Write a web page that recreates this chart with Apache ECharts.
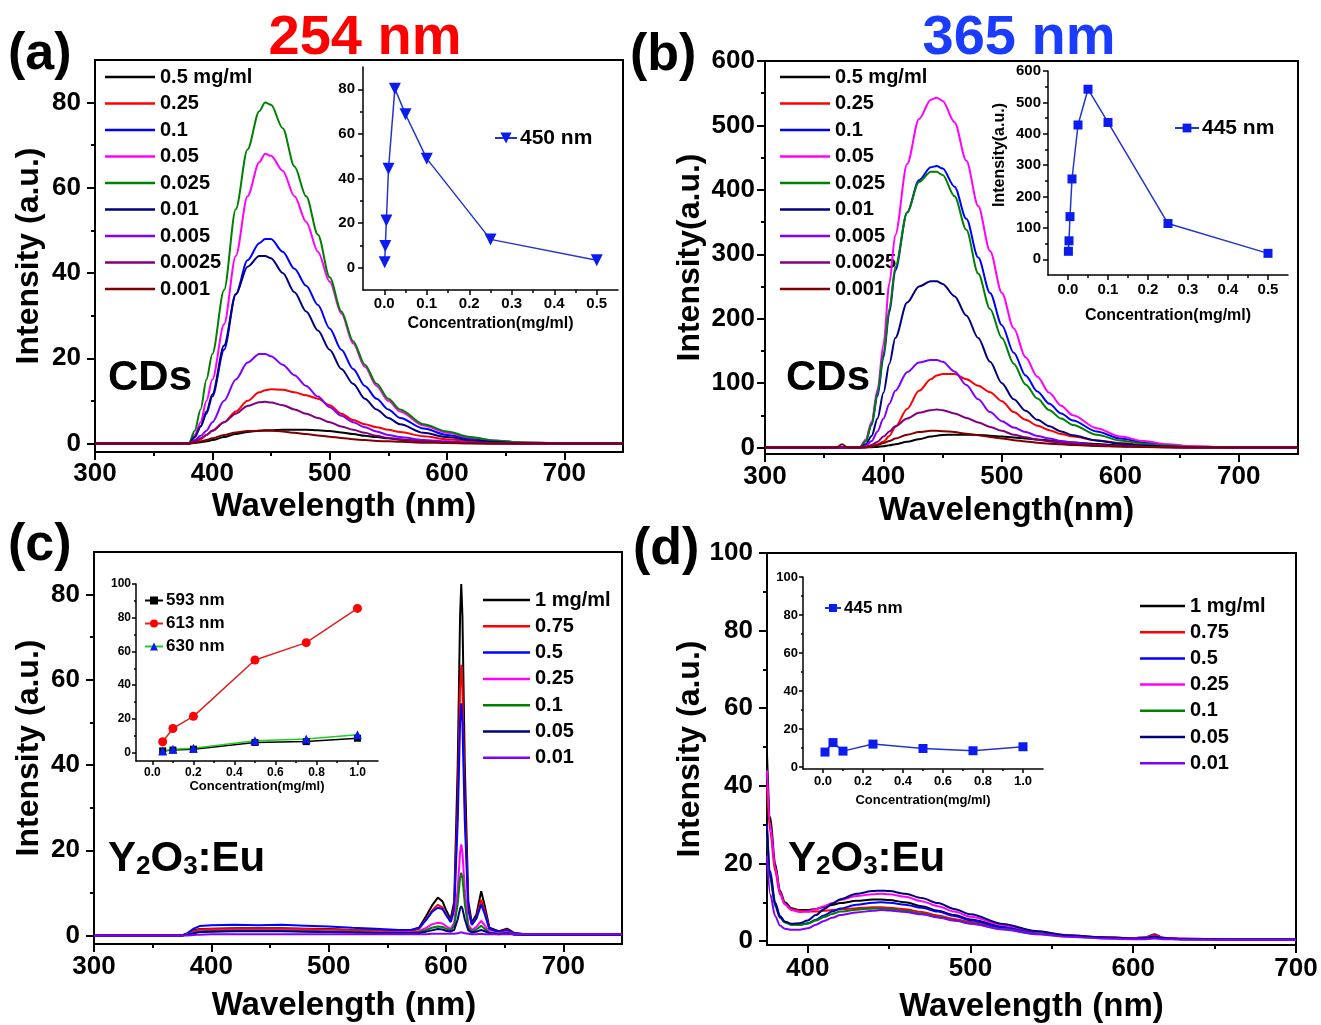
<!DOCTYPE html>
<html><head><meta charset="utf-8">
<script src="https://cdn.jsdelivr.net/npm/echarts@6/dist/echarts.min.js"></script>
<style>html,body{margin:0;padding:0;background:#fff}#c{width:1321px;height:1025px}</style>
</head><body><div id="c"></div>
<script>
// ---------- Panel (a): CDs, 254 nm excitation ----------
const waveA = [300,370,380,385,390,395,400,410,420,430,440,445,450,460,470,480,490,500,510,520,530,540,550,560,580,600,620,640,660,700,750];
const a_05    = [0,0,0,0.1,0.3,0.5,0.8,1.5,2.2,2.7,3.0,3.1,3.1,3.2,3.2,3.2,3.1,2.9,2.6,2.2,1.8,1.5,1.2,0.9,0.5,0.3,0.1,0,0,0,0];
const a_025   = [0,0,0,0.3,1,2,3,5,7.5,10,12,12.5,12.7,12.6,12,11.3,10.5,9,7,5.5,4.5,3.8,3.2,2.7,1.7,1,0.5,0.2,0,0,0];
const a_01    = [0,0,0,1.5,4,7,11,22,35,43,47,48,48,45,41,37,32.5,27,22,17.5,13.5,10.5,8,6,3.5,2,1.2,0.6,0.2,0,0];
const a_005   = [0,0,0,2,5,10,15,28,44,58,66,68,67.5,64,58,52,45,38,30.5,23.5,18,13.5,10,7.5,4.2,2.5,1.4,0.7,0.3,0,0];
const a_0025  = [0,0,0,3,8,15,21,36,55,69,78,80,79.5,74,65,58,49,39,31,24,18.5,14,10.5,8,4.5,2.8,1.5,0.7,0.3,0,0];
const a_001   = [0,0,0,1.5,4,7.5,11.5,23,35,41.5,44,44,43.5,40,35.5,31,26.5,22,17.5,14,10.5,8,6,4.5,2.5,1.5,0.8,0.4,0.1,0,0];
const a_0005  = [0,0,0,0.8,1.8,3,5,10,15,19,21,21,20.5,18.5,16,13.5,11,8.5,6.5,5,3.8,2.8,2,1.5,0.8,0.5,0.2,0.1,0,0,0];
const a_00025 = [0,0,0,0.5,1.2,2,3,5,7,8.8,9.7,9.8,9.6,9,8,7,6,5,4,3.2,2.5,1.8,1.3,1,0.5,0.3,0.1,0,0,0,0];
const a_0001  = [0,0,0,0.2,0.5,0.8,1.2,2,2.6,2.9,3,3,3,2.8,2.5,2.2,1.9,1.6,1.3,1,0.8,0.6,0.5,0.4,0.2,0.1,0,0,0,0,0];
const labelsA = ['0.5 mg/ml','0.25','0.1','0.05','0.025','0.01','0.005','0.0025','0.001'];

// ---------- Panel (b): CDs, 365 nm excitation ----------
const waveB = [300,360,365,370,380,385,390,395,400,405,410,420,430,440,445,450,460,470,480,490,500,510,520,530,540,550,560,580,600,620,640,660,700,750];
const b_05    = [0,0,0,0,0,0.2,0.5,1,2,3.5,5,9,13,17,18.5,19.5,20,20,19.5,18.5,17,15.5,14,12.5,11,9.5,8,5.5,3.5,2,1,0.5,0,0];
const b_025   = [0,0,0,0,0,0,2,5,9,18,32,60,88,106,112,114,114,106,96,86,72,55,43,34,27,21,17,11,7,4,2,1,0,0];
const b_01    = [0,0,0,0,0,10,35,80,140,210,275,365,415,435,437,433,405,355,295,240,190,147,112,87,68,53,42,25,14,8,4,1.5,0,0];
const b_005   = [0,0,0,0,0,12,40,90,160,255,330,440,510,540,543,538,505,445,375,305,240,185,140,110,85,65,50,30,17,10,5,2,0,0];
const b_0025  = [0,0,0,0,0,10,37,85,145,215,280,365,412,428,428,423,390,338,270,215,170,130,98,76,58,45,35,20,11,6,3,1,0,0];
const b_001   = [0,0,0,0,0,5,18,45,85,130,170,225,250,258,258,254,235,205,170,133,100,75,57,43,33,25,19,11,6,3,1.5,0.5,0,0];
const b_0005  = [0,0,0,0,0,3,10,25,45,68,88,117,132,136,136,133,118,97,75,55,41,31,24,18,14,10,8,4,2,1,0.5,0,0,0];
const b_00025 = [0,0,0,0,0,1,4,9,17,25,33,45,54,58,59,58,53,46,39,32,26,20,16,12,9.5,7.5,6,3.5,2,1,0.5,0,0,0];
const b_0001  = [0,0,5,0,0,1,2,4,7,10,14,20,24,26,26,25.5,24,21.5,19,16.5,14,11.5,9.5,7.5,6,5,4,2.5,1.5,0.8,0.3,0,0,0];
const labelsB = ['0.5 mg/ml','0.25','0.1','0.05','0.025','0.01','0.005','0.0025','0.001'];

// ---------- Panel (c): Y2O3:Eu, 254 nm excitation ----------
const waveC = [300,375,380,385,390,400,420,440,460,480,500,520,540,560,570,577,583,588,593,597,600,604,607,610,612,613,614,616,619,622,626,630,633,637,645,652,658,665,700,750];
const c_1    = [0,0,0.5,1.2,1.5,1.6,1.7,1.7,1.7,1.6,1.5,1.3,1.2,1.0,1.2,1.8,4.5,7,8.9,8,6,3.8,8,40,75,82.5,75,40,8,3,5,10.4,7,1.8,1.0,1.6,0.6,0.4,0.3,0.3];
const c_075  = [0,0,0.4,1,1.4,1.5,1.6,1.6,1.6,1.5,1.4,1.2,1.1,0.9,1.0,1.5,3.8,5.8,7.2,6.6,5,3.2,6.5,31,58,63.5,58,31,6.5,2.5,4.2,8.4,5.8,1.5,0.8,1.3,0.5,0.3,0.3,0.3];
const c_05   = [0,0,0.6,1.6,2.2,2.4,2.5,2.4,2.5,2.3,2.1,1.8,1.6,1.3,1.3,1.8,3.6,5.5,6.5,6.2,4.8,3.2,6,27,50,54.5,50,27,6,2.5,4,7.3,5,1.5,0.8,1.2,0.5,0.3,0.3,0.3];
const c_025  = [0,0,0.3,0.7,1,1.1,1.2,1.2,1.2,1.1,1.0,0.9,0.8,0.7,0.7,1,1.8,2.6,3,2.8,2.2,1.5,3,11,19.5,21.4,19.5,11,2.5,1.3,2,3.4,2.4,0.8,0.5,0.8,0.3,0.2,0.2,0.2];
const c_01   = [0,0,0.3,0.6,0.9,1.0,1.1,1.1,1.1,1.0,0.9,0.8,0.7,0.6,0.6,0.8,1.3,1.8,2.1,2,1.6,1.2,2.2,7.5,13.5,14.7,13.5,7.5,1.8,1,1.4,2.3,1.6,0.6,0.4,0.6,0.3,0.2,0.2,0.2];
const c_005  = [0,0,0.2,0.5,0.8,0.9,1.0,1.0,1.0,0.9,0.8,0.7,0.6,0.5,0.5,0.6,0.9,1.2,1.5,1.4,1.1,0.9,1.3,3.8,6.3,6.9,6.3,3.8,1.2,0.7,0.9,1.3,1,0.5,0.3,0.5,0.2,0.2,0.2,0.2];
const c_001  = [0,0,0,0.1,0.2,0.3,0.3,0.3,0.3,0.3,0.3,0.3,0.3,0.3,0.3,0.3,0.3,0.4,0.4,0.4,0.4,0.4,0.4,0.5,0.7,0.8,0.7,0.5,0.4,0.3,0.3,0.4,0.3,0.3,0.3,0.3,0.3,0.3,0.3,0.3];
const labelsC = ['1 mg/ml','0.75','0.5','0.25','0.1','0.05','0.01'];

// ---------- Panel (d): Y2O3:Eu, 365 nm excitation ----------
const waveD = [375,377,380,383,386,390,395,400,405,410,415,420,430,440,445,450,460,470,480,490,500,520,540,560,580,600,608,613,618,630,660,700];
const d_1    = [48,32,20,13,10,8.5,8,8,8.3,8.8,9.3,9.8,10.4,10.7,10.7,10.6,10,9,7.8,6.7,5.6,3.7,2.3,1.4,1,0.8,1.0,1.8,0.9,0.6,0.5,0.5];
const d_075  = [40,28,18,12,9.5,8.2,7.8,7.6,7.6,7.8,8,8.2,8.5,8.7,8.7,8.6,8.2,7.5,6.6,5.7,4.9,3.3,2.1,1.3,0.9,0.8,0.9,1.6,0.9,0.6,0.5,0.5];
const d_05   = [30,18,10,6.5,5,4.3,4.2,4.6,5.5,6.6,7.6,8.4,9.4,9.9,10,9.9,9.4,8.6,7.6,6.5,5.4,3.5,2.1,1.3,0.9,0.7,0.8,1.3,0.8,0.5,0.4,0.4];
const d_025  = [44,30,19,12.5,9.5,8,7.5,7.6,8.2,9,9.8,10.6,11.6,12.1,12.2,12.1,11.4,10.3,9,7.6,6.3,4.1,2.5,1.5,1,0.8,0.9,1.4,0.9,0.6,0.5,0.5];
const d_01   = [27,16,9,6,4.8,4.2,4.2,4.5,5.3,6.2,7,7.6,8.1,8.4,8.4,8.3,7.8,7.1,6.3,5.4,4.6,3.1,1.9,1.2,0.8,0.6,0.6,0.9,0.6,0.5,0.4,0.4];
const d_005  = [29,17,9.5,6.2,5,4.5,4.6,5.3,6.7,8.2,9.6,10.8,12.2,12.9,13,12.9,12.2,11.1,9.8,8.3,6.9,4.4,2.6,1.5,1,0.7,0.8,1.2,0.8,0.5,0.4,0.4];
const d_001  = [22,12,6.5,4,3.2,2.9,2.9,3.3,4.2,5.2,6,6.7,7.4,7.8,8,7.9,7.5,6.9,6.1,5.3,4.5,3,1.8,1.1,0.7,0.5,0.5,0.7,0.5,0.4,0.3,0.3];
const labelsD = ['1 mg/ml','0.75','0.5','0.25','0.1','0.05','0.01'];

// ---------- Insets ----------
const concAB   = [0.001,0.0025,0.005,0.01,0.025,0.05,0.1,0.25,0.5];
const insA450  = [2.5,9.7,21.2,44.4,80.3,68.8,48.9,12.7,3.3];
const insB445  = [25.5,59,136,256,428,542,436,114,19];
const concC    = [0.05,0.1,0.2,0.5,0.75,1.0];
const insC593  = [1,1.5,2,6,6.5,8.5];
const insC613  = [6.4,14.3,21.5,54.9,65.2,85.5];
const insC630  = [1,2,2.5,7,8,10.5];
const concD    = [0.01,0.05,0.1,0.25,0.5,0.75,1.0];
const insD445  = [7.9,12.9,8.4,12.1,9.8,8.6,10.7];

// ---------- Styling / layout ----------
const FF = '"Liberation Sans", Arial, Helvetica, sans-serif';
const colCD = ['#000000','#ff0000','#0000ff','#ff00ff','#008000','#000080','#8000ff','#800080','#800000'];
const colEu = ['#000000','#ff0000','#0000ff','#ff00ff','#008000','#000080','#8000ff'];

const grids = [
  {left:95,  top:60,  width:528, height:392, show:true},
  {left:765, top:61,  width:533, height:393, show:true},
  {left:94,  top:552, width:528, height:392, show:true},
  {left:767, top:553, width:529, height:392, show:true},
  {left:363, top:67,  width:255, height:223, show:false},
  {left:1048,top:71,  width:240, height:204, show:false},
  {left:136, top:584, width:242, height:177, show:false},
  {left:803, top:577, width:240, height:192, show:false}
];
const f1 = v => v.toFixed(1);
const axisCfg = [
  {x:{min:300,max:750,majors:[300,400,500,600,700],minors:[350,450,550,650],fs:26,margin:9,tl:8,lw:2,name:'Wavelength (nm)',nameGap:38,nameFs:33,namePad:[0,30,0,0]},
   y:{min:-2,max:90,majors:[0,20,40,60,80],minors:[10,30,50,70],fs:26,margin:14,tl:8,lw:2,name:'Intensity (a.u.)',nameGap:50,nameFs:32}},
  {x:{min:300,max:750,majors:[300,400,500,600,700],minors:[350,450,550,650],fs:26,margin:10,tl:8,lw:2,name:'Wavelength(nm)',nameGap:40,nameFs:33,namePad:[0,50,0,0]},
   y:{min:-10,max:600,majors:[0,100,200,300,400,500,600],minors:[50,150,250,350,450,550],fs:26,margin:10,tl:8,lw:2,name:'Intensity(a.u.)',nameGap:59,nameFs:32}},
  {x:{min:300,max:750,majors:[300,400,500,600,700],minors:[350,450,550,650],fs:26,margin:10,tl:8,lw:2,name:'Wavelength (nm)',nameGap:45,nameFs:33,namePad:[0,28,0,0]},
   y:{min:-2,max:90,majors:[0,20,40,60,80],minors:[10,30,50,70],fs:26,margin:14,tl:8,lw:2,name:'Intensity (a.u.)',nameGap:49,nameFs:32}},
  {x:{min:375,max:700,majors:[400,500,600,700],minors:[450,550,650],fs:26,margin:11,tl:8,lw:2,name:'Wavelength (nm)',nameGap:45,nameFs:33},
   y:{min:-1,max:100,majors:[0,20,40,60,80,100],minors:[10,30,50,70,90],fs:26,margin:14,tl:8,lw:2,name:'Intensity (a.u.)',nameGap:61,nameFs:32}},
  {x:{min:-0.05,max:0.55,majors:[0,0.1,0.2,0.3,0.4,0.5],minors:[0.05,0.15,0.25,0.35,0.45],fs:15,margin:6,tl:5,lw:1.5,fmt:f1,name:'Concentration(mg/ml)',nameGap:26,nameFs:16},
   y:{min:-10,max:90,majors:[0,20,40,60,80],minors:[10,30,50,70],fs:15,margin:8,tl:5,lw:1.5}},
  {x:{min:-0.05,max:0.55,majors:[0,0.1,0.2,0.3,0.4,0.5],minors:[0.05,0.15,0.25,0.35,0.45],fs:15,margin:7,tl:5,lw:1.5,fmt:f1,name:'Concentration(mg/ml)',nameGap:33,nameFs:16},
   y:{min:-50,max:600,majors:[0,100,200,300,400,500,600],minors:[50,150,250,350,450,550],fs:15,margin:7,tl:5,lw:1.5,name:'Intensity(a.u.)',nameGap:40,nameFs:16,namePad:[0,0,0,36]}},
  {x:{min:-0.08,max:1.1,majors:[0,0.2,0.4,0.6,0.8,1.0],minors:[0.1,0.3,0.5,0.7,0.9],fs:12,margin:6,tl:4,lw:1.5,fmt:f1,name:'Concentration(mg/ml)',nameGap:18,nameFs:13},
   y:{min:-5,max:100,majors:[0,20,40,60,80,100],minors:[10,30,50,70,90],fs:12,margin:5,tl:4,lw:1.5}},
  {x:{min:-0.1,max:1.1,majors:[0,0.2,0.4,0.6,0.8,1.0],minors:[0.1,0.3,0.5,0.7,0.9],fs:13,margin:6,tl:4,lw:1.5,fmt:f1,name:'Concentration(mg/ml)',nameGap:25,nameFs:13},
   y:{min:-1,max:100,majors:[0,20,40,60,80,100],minors:[10,30,50,70,90],fs:13,margin:5,tl:4,lw:1.5}}
];

const xAxes = [], yAxes = [];
function pushAxes(list, dim, gi, c) {
  const pos = dim === 'x' ? 'bottom' : 'left';
  list.push({
    type:'value', gridIndex:gi, min:c.min, max:c.max, position:pos,
    axisLine:{show:true, onZero:false, lineStyle:{color:'#000', width:c.lw}},
    axisTick:{show:true, inside:false, length:c.tl, lineStyle:{color:'#000', width:c.lw}, customValues:c.majors},
    axisLabel:{show:true, customValues:c.majors, margin:c.margin, fontSize:c.fs, fontWeight:'bold', color:'#000', fontFamily:FF, formatter:c.fmt},
    splitLine:{show:false},
    name:c.name || '', nameLocation:'middle', nameGap:c.nameGap || 20,
    nameTextStyle:{fontSize:c.nameFs || 12, fontWeight:'bold', color:'#000', fontFamily:FF, padding:c.namePad || 0}
  });
  list.push({
    type:'value', gridIndex:gi, min:c.min, max:c.max, position:pos,
    axisLine:{show:false, onZero:false},
    axisTick:{show:true, inside:false, length:Math.round(c.tl*0.55), lineStyle:{color:'#000', width:c.lw}, customValues:c.minors},
    axisLabel:{show:false}, splitLine:{show:false}
  });
}
axisCfg.forEach((c, gi) => { pushAxes(xAxes, 'x', gi, c.x); pushAxes(yAxes, 'y', gi, c.y); });

const zip = (xs, ys) => xs.map((x, i) => [x, ys[i]]);
const series = [];
function spectra(prefix, gi, wave, arrs, labels, cols, smooth) {
  const names = [];
  arrs.forEach((arr, i) => {
    const nm = prefix + '|' + labels[i];
    names.push(nm);
    series.push({
      type:'line', name:nm, xAxisIndex:gi*2, yAxisIndex:gi*2, data:zip(wave, arr),
      symbol:'none', showSymbol:false, smooth:smooth, smoothMonotone:'x', lineStyle:{color:cols[i], width:2}, itemStyle:{color:cols[i]},
      silent:true, animation:false, z:2+i
    });
  });
  return names;
}
const nA = spectra('a', 0, waveA, [a_05,a_025,a_01,a_005,a_0025,a_001,a_0005,a_00025,a_0001], labelsA, colCD, 0.3);
const nB = spectra('b', 1, waveB, [b_05,b_025,b_01,b_005,b_0025,b_001,b_0005,b_00025,b_0001], labelsB, colCD, 0.3);
const nC = spectra('c', 2, waveC, [c_1,c_075,c_05,c_025,c_01,c_005,c_001], labelsC, colEu, false);
const nD = spectra('d', 3, waveD, [d_1,d_075,d_05,d_025,d_01,d_005,d_001], labelsD, colEu, 0.3);

function inset(name, gi, xs, ys, lineCol, symCol, symbol, size, rot) {
  series.push({
    type:'line', name:name, xAxisIndex:gi*2, yAxisIndex:gi*2, data:zip(xs, ys),
    symbol:symbol, symbolSize:size, symbolRotate:rot || 0, showSymbol:true,
    lineStyle:{color:lineCol, width:1.5}, itemStyle:{color:symCol},
    silent:true, animation:false, z:10
  });
  return name;
}
const iA = inset('ia|450 nm', 4, concAB, insA450, '#2236cc', '#0a1cf0', 'triangle', 12, 180);
const iB = inset('ib|445 nm', 5, concAB, insB445, '#2236cc', '#0a1cf0', 'rect', 9);
const iC1 = inset('ic|593 nm', 6, concC, insC593, '#000000', '#000000', 'rect', 7);
const iC2 = inset('ic|613 nm', 6, concC, insC613, '#e02020', '#ff0000', 'circle', 9);
const iC3 = inset('ic|630 nm', 6, concC, insC630, '#22cc22', '#0a1cf0', 'triangle', 9);
const iD = inset('id|445 nm', 7, concD, insD445, '#2236cc', '#0a1cf0', 'rect', 9);

const fmtLeg = n => n.split('|')[1];
function legend(names, left, top, iw, ih, fs, lh, gap, icon, pad) {
  const l = {orient:'vertical', left:left, top:top, itemWidth:iw, itemHeight:ih, itemGap:gap, padding:0,
    data:names, formatter:fmtLeg, selectedMode:false,
    textStyle:{fontSize:fs, fontWeight:'bold', color:'#000', fontFamily:FF, lineHeight:lh, padding:[0,0,0,pad || 0]}};
  if (icon) l.icon = icon;
  return l;
}
const legends = [
  legend(nA, 105, 67, 50, 2.5, 20, 20, 6.5, 'rect'),
  legend(nB, 780, 67, 50, 2.5, 20, 20, 6.5, 'rect'),
  legend(nC, 483, 590, 47, 2.5, 20, 20, 6.3, 'rect'),
  legend(nD, 1140, 596, 45, 2.5, 20, 20, 6.2, 'rect'),
  legend([iA], 494, 127, 22, 14, 21, 22, 0, null, -2),
  legend([iB], 1174, 117, 24, 11, 21, 22, 0, null, -2),
  legend([iC1, iC2, iC3], 144, 592, 18, 10, 17, 17, 6, null, -2),
  legend([iD], 824, 599, 16, 10, 17, 18, 0, null, -2)
];

const big = (t, l, tp, fs, col, align) => ({text:t, left:l, top:tp, padding:0, textAlign:align || 'left',
  textStyle:{fontSize:fs, fontWeight:'bold', color:col || '#000', fontFamily:FF}});
const euRich = {m:{fontSize:42, fontWeight:'bold', color:'#000', fontFamily:FF},
                s:{fontSize:26, fontWeight:'bold', color:'#000', fontFamily:FF, verticalAlign:'bottom'}};
const titles = [
  big('254 nm', 365, 11, 56, '#ff0000', 'center'),
  big('365 nm', 1019, 11, 56, '#1a3cff', 'center'),
  big('(a)', 8, 29, 52), big('(b)', 630, 30, 52), big('(c)', 8, 520, 52), big('(d)', 633, 524, 52),
  big('CDs', 108, 357, 42), big('CDs', 786, 357, 42),
  {text:'{m|Y}{s|2}{m|O}{s|3}{m|:Eu}', left:108, top:838, padding:0, textStyle:{rich:euRich}},
  {text:'{m|Y}{s|2}{m|O}{s|3}{m|:Eu}', left:788, top:838, padding:0, textStyle:{rich:euRich}}
];

const chart = echarts.init(document.getElementById('c'), null, {renderer:'canvas'});
chart.setOption({
  backgroundColor:'#fff', animation:false,
  textStyle:{fontFamily:FF},
  title:titles,
  legend:legends,
  grid:grids.map(g => ({left:g.left, top:g.top, width:g.width, height:g.height, show:g.show, borderColor:'#000', borderWidth:2, containLabel:false})),
  xAxis:xAxes, yAxis:yAxes, series:series
});
</script></body></html>
